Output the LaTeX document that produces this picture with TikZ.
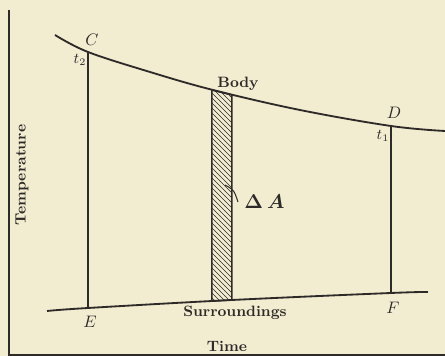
\documentclass[tikz,border=0pt]{standalone}
\usepackage{amsmath,amssymb}
\usepackage{tikz}
\usetikzlibrary{patterns}

\definecolor{paper}{RGB}{242,236,209}
\definecolor{ink}{RGB}{45,42,40}

\begin{document}
\begin{tikzpicture}[x=0.6pt, y=-0.6pt, font=\small, line width=1.1pt, draw=ink, text=ink]
  % Cooling of a body towards its surroundings: temperature against time, with the
  % strip of width dt under the body curve hatched (pixel units, y running downwards).
  \fill[paper] (0,0) rectangle (445,356);
  \useasboundingbox (0,0) rectangle (445,356);
  % axes
  \coordinate (top) at (9,10);
  \coordinate (O) at (9,355);
  \coordinate (right) at (445,355);
  \draw[line width=0.8pt] (top) -- (O) -- (right);
  % the body curve, C at t_2 and D at t_1
  \coordinate (C) at (88,52);
  \coordinate (D) at (391,126);
  \draw plot[smooth, tension=0.6] coordinates {(55,35) (C) (150,72) (213,90) (300,110) (D) (445,131)};
  % the surroundings line
  \coordinate (E) at (88,308);
  \coordinate (F) at (391,293);
  \draw plot[smooth, tension=0.6] coordinates {(47,311) (E) (232,300) (F) (428,292)};
  % ordinates at the ends
  \draw (C) -- (E);
  \draw (D) -- (F);
  % the hatched strip
  \coordinate (sa) at (212,90);
  \coordinate (sb) at (232,95);
  \coordinate (sc) at (232,300);
  \coordinate (sd) at (212,301);
  \fill[pattern=north west lines, pattern color=ink] (sa) -- (sb) -- (sc) -- (sd) -- cycle;
  \draw[line width=0.9pt] (sa) -- (sb) -- (sc) -- (sd) -- cycle;
  % labels
  \node[font=\normalsize] (lC) at (92,40) {$C$};
  \node (lt2) at (80,60) {$t_2$};
  \node[font=\normalsize] (lD) at (394,113) {$D$};
  \node (lt1) at (383,136) {$t_1$};
  \node[font=\normalsize] (lE) at (90,322) {$E$};
  \node[font=\normalsize] (lF) at (393,308) {$F$};
  \node[font=\small\bfseries] (body) at (238,84) {Body};
  \node[font=\small\bfseries] (surr) at (235,313) {Surroundings};
  \node[font=\small\bfseries] (time) at (227,346) {Time};
  \node[font=\small\bfseries, rotate=90] (temp) at (22,175) {Temperature};
  \node[anchor=west, font=\large] (dA) at (238,202) {$\boldsymbol{\Delta\,A}$};
  \coordinate (dAin) at (225,185);
  \draw[line width=0.6pt] (dAin) .. controls (234,190) .. (dA.west);
\end{tikzpicture}
\end{document}
